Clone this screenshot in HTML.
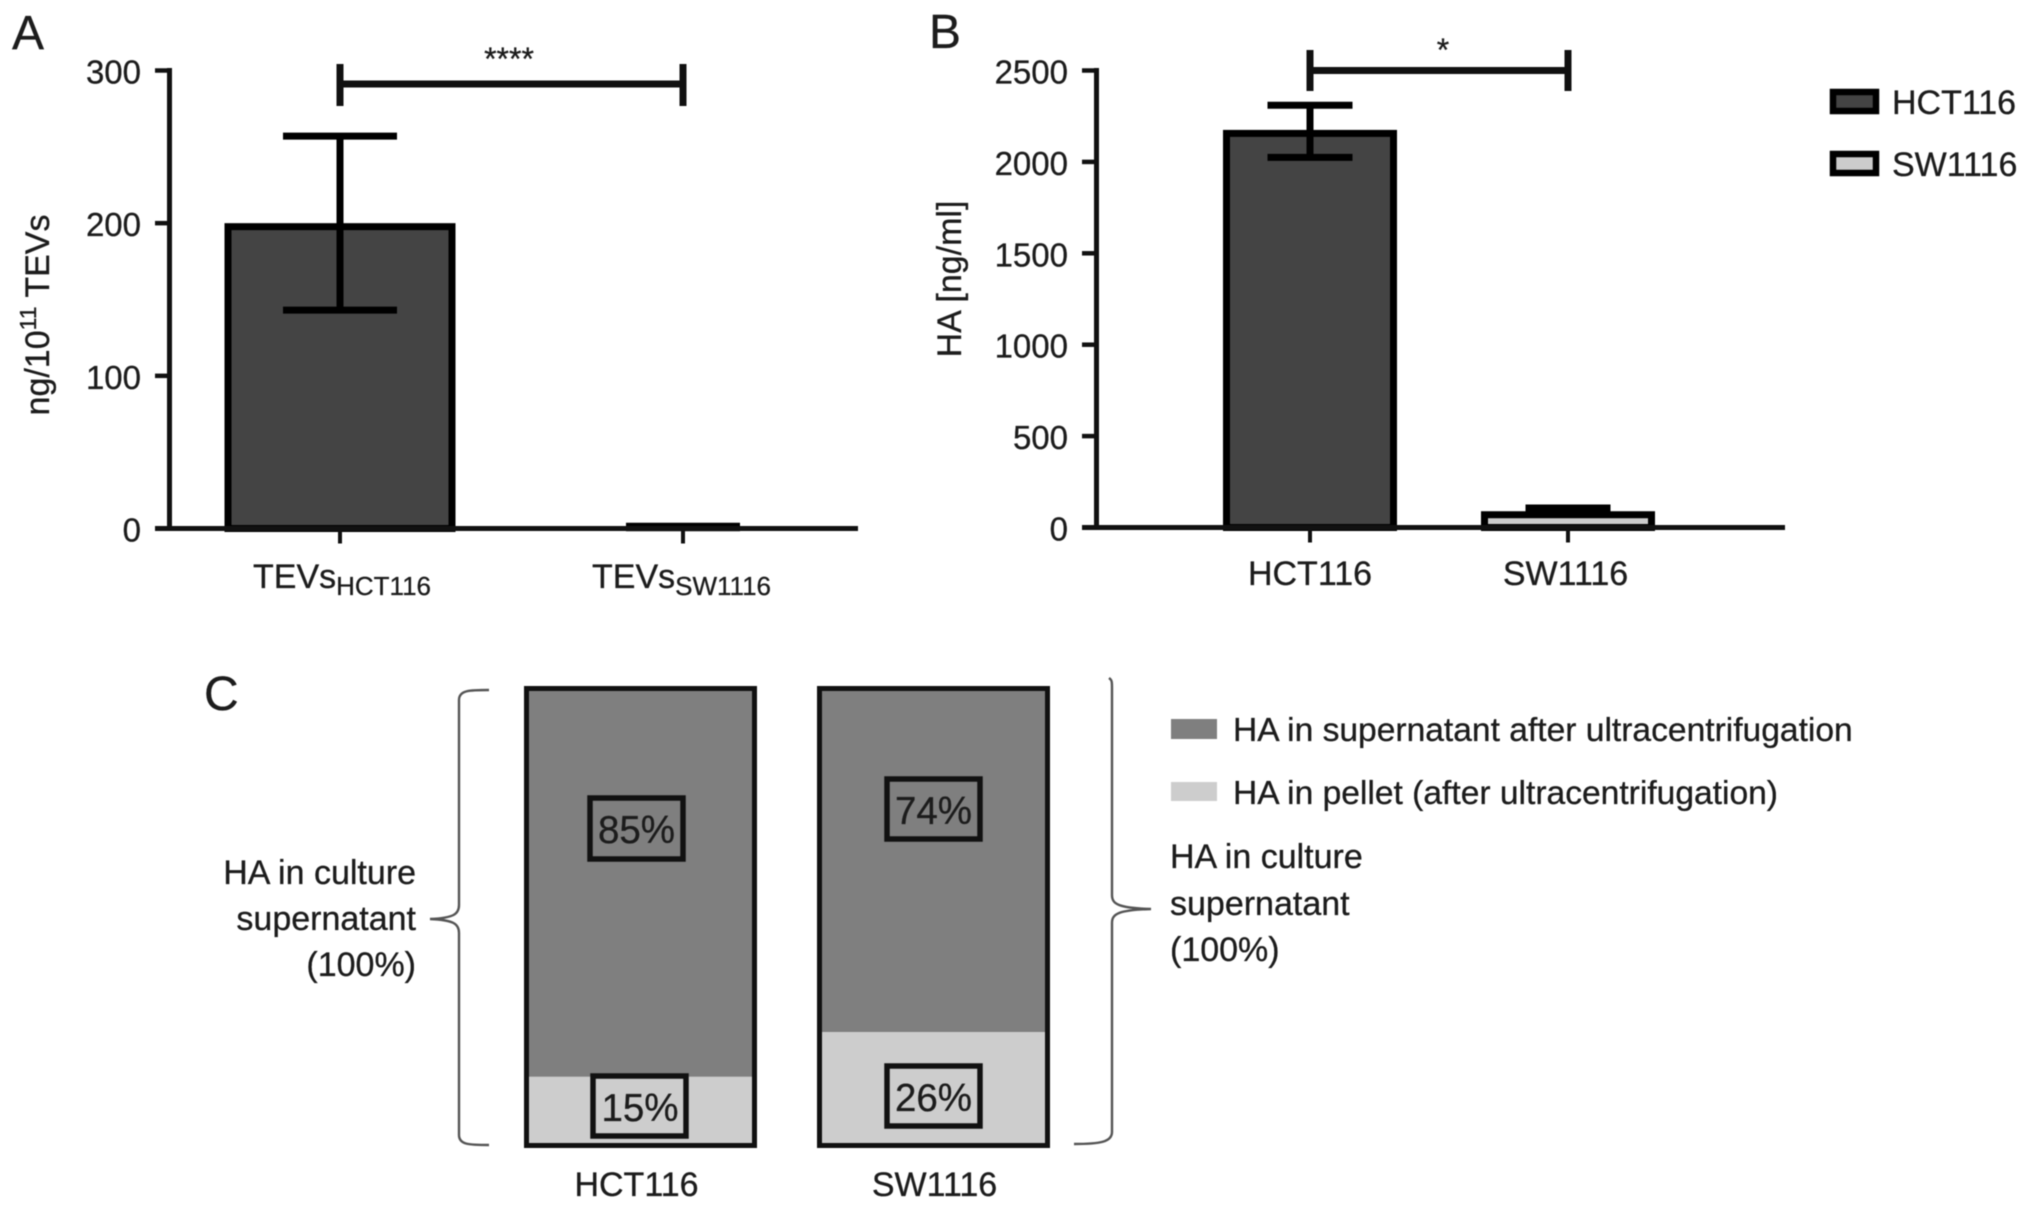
<!DOCTYPE html>
<html lang="en">
<head>
<meta charset="utf-8">
<title>TEV and HA quantification</title>
<style>
  html, body { margin: 0; padding: 0; background: #fff; }
  svg { display: block; filter: blur(0.6px); }
  text { font-family: "Liberation Sans", sans-serif; fill: #1c1c1c; stroke: #1c1c1c; stroke-width: 0.3px; font-size: 34px; }
  .tick-label { font-size: 33px; }
  .legend-long { font-size: 33.6px; }
  .letter { font-size: 48px; }
  .pct { font-size: 38.5px; text-anchor: middle; }
  .sub { font-size: 26px; }
  .pbox { fill: none; stroke: #111; stroke-width: 5.5; }
  .brace { fill: none; stroke: #555; stroke-width: 2.4; }
</style>
</head>
<body>
<svg id="figure" xmlns="http://www.w3.org/2000/svg" width="2032" height="1210" viewBox="0 0 2032 1210">
  <rect x="0" y="0" width="2032" height="1210" fill="#fff"/>

  <text class="letter" x="12" y="49">A</text>
  <text class="letter" x="929" y="48">B</text>
  <text class="letter" x="204" y="710">C</text>

  <g id="panel-a"></g>
  <g id="panel-b"></g>
  <g id="panel-c"></g>

  <text transform="translate(49 315) rotate(-90)" text-anchor="middle">ng/10<tspan font-size="23" style="font-size:23px" dy="-13">11</tspan><tspan dy="13"> TEVs</tspan></text>
  <text transform="translate(961 279) rotate(-90)" text-anchor="middle">HA [ng/ml]</text>

  <text x="253" y="588">TEVs<tspan class="sub" dy="7">HCT116</tspan></text>
  <text x="592" y="588">TEVs<tspan class="sub" dy="7">SW1116</tspan></text>

  <text x="509" y="70" text-anchor="middle" style="font-size:32px">****</text>
  <g stroke="#111" stroke-width="7" fill="none">
    <path d="M340 84H683M340 64V106M683 64V106"/>
  </g>
  <text x="1443" y="61" text-anchor="middle" style="font-size:32px">*</text>
  <g stroke="#111" stroke-width="7" fill="none">
    <path d="M1310 70.5H1568M1310 50V91M1568 50V91"/>
  </g>

  <rect x="1833" y="92" width="43" height="19" fill="#444" stroke="#000" stroke-width="6.5"/>
  <text x="1892" y="114">HCT116</text>
  <rect x="1833" y="154" width="43" height="19" fill="#ccc" stroke="#000" stroke-width="6.5"/>
  <text x="1892" y="176">SW1116</text>

  <rect class="pbox" x="590" y="798" width="93" height="61"/>
  <text class="pct" x="636.5" y="843">85%</text>
  <rect class="pbox" x="887" y="779" width="93" height="60"/>
  <text class="pct" x="933.5" y="824">74%</text>
  <rect class="pbox" x="593" y="1076" width="93" height="60"/>
  <text class="pct" x="640" y="1121">15%</text>
  <rect class="pbox" x="887" y="1066" width="93" height="60"/>
  <text class="pct" x="933.5" y="1111">26%</text>

  <text x="416" y="884" text-anchor="end">HA in culture</text>
  <text x="416" y="930" text-anchor="end">supernatant</text>
  <text x="416" y="976" text-anchor="end">(100%)</text>
  <path class="brace" d="M489 690C470 690 459 690 459 700V905C459 914 454 918 430 919C454 920 459 924 459 933V1135C459 1145 470 1145 489 1145"/>

  <path class="brace" d="M1109 678C1112 680 1112 682 1112 688V895C1112 904 1118 908 1151 909C1118 910 1112 914 1112 923V1132C1112 1142 1100 1144 1074 1144"/>
  <text x="1170" y="868">HA in culture</text>
  <text x="1170" y="915">supernatant</text>
  <text x="1170" y="961">(100%)</text>

  <rect x="1171" y="719" width="46" height="20" fill="#7f7f7f"/>
  <text class="legend-long" x="1233" y="741">HA in supernatant after ultracentrifugation</text>
  <rect x="1171" y="782" width="46" height="19" fill="#cdcdcd"/>
  <text class="legend-long" x="1233" y="804">HA in pellet (after ultracentrifugation)</text>
</svg>

<script>
// Panel A data
const panelATicks = [0, 100, 200, 300];
const panelACategories = ['hct116', 'sw1116'];
const panelAMeans = [200, 0.5];
const panelAErrHigh = [257, 1.5];
const panelAErrLow = [143, 0.5];

// Panel B data
const panelBTicks = [0, 500, 1000, 1500, 2000, 2500];
const panelBCategories = ['HCT116', 'SW1116'];
const panelBMeans = [2175, 89];
const panelBErrHigh = [2310, 107];
const panelBErrLow = [2025, 75];

// Panel C data (share of total, percent, as drawn)
const panelCCategories = ['HCT116', 'SW1116'];
const panelCPellet = [15.4, 25.1];

const SVG_NS = 'http://www.w3.org/2000/svg';

function add(parent, tag, attrs, text) {
  const el = document.createElementNS(SVG_NS, tag);
  for (const k in attrs) el.setAttribute(k, attrs[k]);
  if (text !== undefined) el.textContent = text;
  parent.appendChild(el);
  return el;
}

function drawBarPanel(root, cfg) {
  const y = v => cfg.y0 - (v / cfg.max) * (cfg.y0 - cfg.yTop);
  const catX = cfg.catX;
  const bs = 7;

  cfg.categories.forEach((cat, i) => {
    const cx = catX(i);
    const top = y(cfg.means[i]);
    const h = cfg.y0 - top;
    if (h > bs) {
      const bar = add(root, 'rect', {
        x: cx - cfg.barW / 2 + bs / 2,
        y: top + bs / 2,
        width: cfg.barW - bs,
        height: h - bs / 2,
        fill: cfg.fills[i],
        stroke: '#000',
        'stroke-width': bs
      });
      
      
    } else {
      const bar = add(root, 'rect', {
        x: cx - cfg.barW / 2,
        y: top,
        width: cfg.barW,
        height: h,
        fill: '#000'
      });
      
      
    }
    const hi = y(cfg.errHigh[i]);
    const lo = y(cfg.errLow[i]);
    const err = add(root, 'path', {
      d: 'M' + cx + ' ' + hi + 'V' + lo +
         'M' + (cx - cfg.capW / 2) + ' ' + hi + 'H' + (cx + cfg.capW / 2) +
         'M' + (cx - cfg.capW / 2) + ' ' + lo + 'H' + (cx + cfg.capW / 2),
      stroke: '#000',
      'stroke-width': 7,
      fill: 'none'
    });
    
    

    const tick = add(root, 'line', {
      x1: cx, x2: cx, y1: cfg.y0, y2: cfg.y0 + 15, stroke: '#111', 'stroke-width': 4
    });
    
    
  });

  const yAxis = add(root, 'line', {
    x1: cfg.axisX, x2: cfg.axisX, y1: cfg.yTop - 2.5, y2: cfg.y0 + 2.5, stroke: '#111', 'stroke-width': 5
  });
  
  

  const xAxis = add(root, 'line', {
    x1: cfg.xStart, x2: cfg.xEnd, y1: cfg.y0, y2: cfg.y0, stroke: '#111', 'stroke-width': 5
  });
  
  

  cfg.ticks.forEach(t => {
    const ty = y(t);
    const tick = add(root, 'line', {
      x1: cfg.xStart, x2: cfg.axisX, y1: ty, y2: ty, stroke: '#111', 'stroke-width': 4.5
    });
    
    

    const label = add(root, 'text', {
      x: cfg.labelX, y: ty + 13, 'text-anchor': 'end', class: 'tick-label'
    }, String(t));
    
    
  });

  if (cfg.showCatLabels) {
    cfg.categories.forEach((cat, i) => {
      const label = add(root, 'text', {
        x: catX(i) - i * 2.5, y: cfg.catLabelY, 'text-anchor': 'middle'
      }, cat);
      
      
    });
  }
}

drawBarPanel(document.getElementById('panel-a'), {
  categories: panelACategories,
  means: panelAMeans,
  errHigh: panelAErrHigh,
  errLow: panelAErrLow,
  ticks: panelATicks,
  max: 300,
  y0: 528.5,
  yTop: 70.5,
  axisX: 169.5,
  xStart: 155,
  xEnd: 858,
  labelX: 141,
  barW: 231,
  capW: 114,
  fills: ['#444444', '#cccccc'],
  catX: i => 340 + i * 343,
  showCatLabels: false
});

drawBarPanel(document.getElementById('panel-b'), {
  categories: panelBCategories,
  means: panelBMeans,
  errHigh: panelBErrHigh,
  errLow: panelBErrLow,
  ticks: panelBTicks,
  max: 2500,
  y0: 527.5,
  yTop: 70.5,
  axisX: 1096.5,
  xStart: 1082,
  xEnd: 1785,
  labelX: 1068,
  barW: 174,
  capW: 85,
  fills: ['#444444', '#cccccc'],
  catX: i => 1310 + i * 258,
  showCatLabels: true,
  catLabelY: 585
});

(function drawPanelC() {
  const root = document.getElementById('panel-c');
  const yBottom = 1148;
  const yTop = 686;
  const barW = 233;
  const y = v => yBottom - (v / 100) * (yBottom - yTop);
  const x = i => 524 + i * 293;
  panelCCategories.forEach((cat, i) => {
    const sup = add(root, 'rect', {
      x: x(i), y: yTop, width: barW, height: y(panelCPellet[i]) - yTop, fill: '#7f7f7f'
    });
    
    

    const pel = add(root, 'rect', {
      x: x(i), y: y(panelCPellet[i]), width: barW, height: yBottom - y(panelCPellet[i]), fill: '#cdcdcd'
    });
    
    

    const frame = add(root, 'rect', {
      x: x(i) + 2.5, y: yTop + 2.5, width: barW - 5, height: yBottom - yTop - 5,
      fill: 'none', stroke: '#111', 'stroke-width': 5
    });
    
    

    const label = add(root, 'text', {
      x: x(i) + barW / 2 - (i === 0 ? 4 : -1), y: 1196, 'text-anchor': 'middle'
    }, cat);
    
    
  });
})();
</script>
</body>
</html>
